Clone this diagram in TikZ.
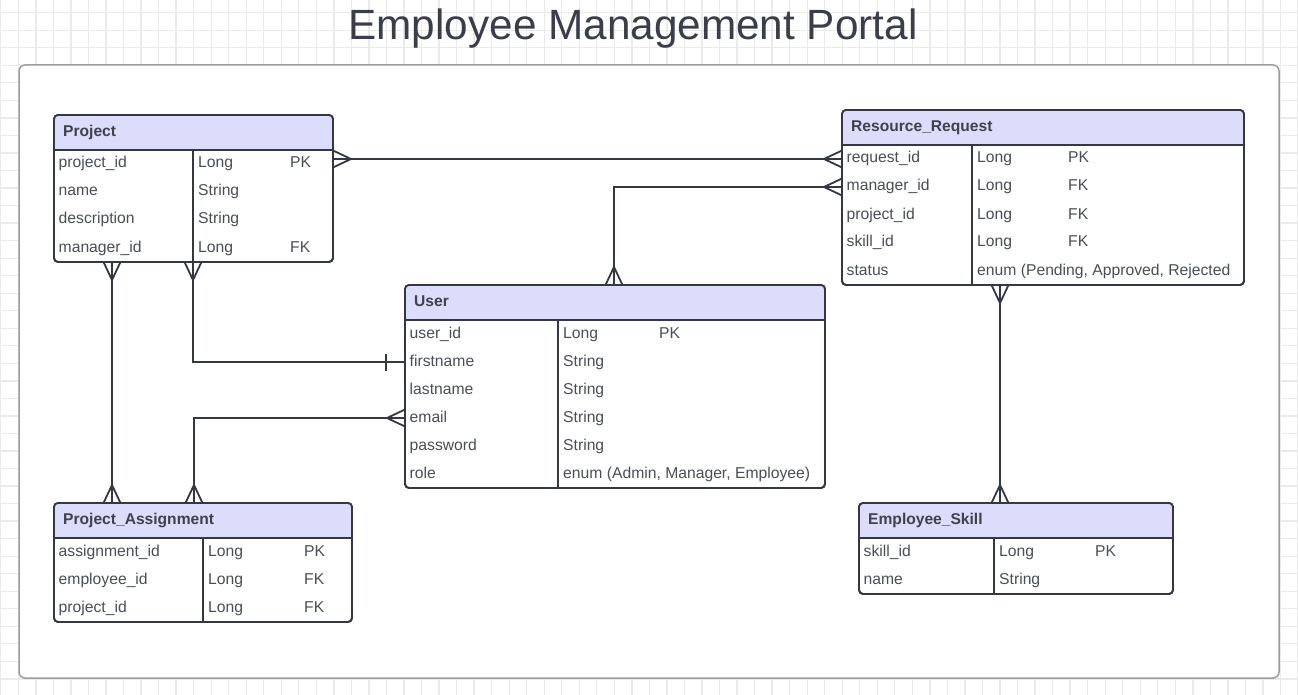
\documentclass[tikz,border=0pt]{standalone}
\usepackage{fontspec}
\setmainfont{Liberation Sans}
\usetikzlibrary{calc}
\definecolor{linec}{HTML}{333844}
\definecolor{bodyc}{HTML}{4A4E57}
\definecolor{headc}{HTML}{3E424C}
\definecolor{headfill}{HTML}{DCDCFB}
\definecolor{gridc}{HTML}{EAEAEA}
\definecolor{framec}{HTML}{9A9EA4}
\definecolor{titlec}{HTML}{3A3D4A}
\tikzset{
 tblbox/.style={draw=linec, fill=white, line width=1.8, rounded corners=4, inner sep=0, outer sep=0, anchor=north west},
 tblline/.style={draw=linec, line width=1.8},
 bodytxt/.style={text=bodyc, font=\fontsize{15.7}{18}\selectfont, inner sep=0, anchor=base west},
 headtxt/.style={text=headc, font=\fontsize{15.6}{18}\selectfont\bfseries, inner sep=0, anchor=base west},
 conn/.style={draw=linec, line width=1.8},
}
% #1 id, #2 title, #3 left, #4 top, #5 right, #6 divider x, #7 key offset, #8 rows, #9 list
\newcommand\ertable[9]{%
 \pgfmathsetmacro\tbot{#4+35+28*#8}
 \node[tblbox, minimum width={(#5-#3)*1pt}, minimum height={(\tbot-#4)*1pt}] (#1) at (#3,#4) {};
 \begin{scope}
  \clip[rounded corners=4] (#3,#4) rectangle (#5,\tbot);
  \fill[headfill] (#3,#4) rectangle (#5,#4+35);
 \end{scope}
 \draw[tblline, rounded corners=4] (#1.north west) rectangle (#1.south east);
 \draw[tblline] (#3,#4+35) -- (#5,#4+35);
 \draw[tblline] (#6,#4+35) -- (#6,\tbot);
 \coordinate (#1-d) at (#6,\tbot);
 \node[headtxt] (#1-h) at (#3+9,#4+21.5) {#2};
 \foreach \n/\t/\k [count=\i] in {#9} {
   \pgfmathsetmacro\yy{#4+35+28*\i-14}
   \coordinate (#1-r\i) at (#3,\yy);
   \node[bodytxt] (#1-n\i) at (#3+4.5,\yy+4) {\n};
   \node[bodytxt] (#1-t\i) at (#6+5,\yy+4) {\t};
   \node[bodytxt] (#1-k\i) at (#6+#7,\yy+4) {\k};
 }
}
\newcommand\crowh[2]{\draw[conn] ($(#1)+(0,-8.5)$) -- ($(#1)+(#2*18,0)$) -- ($(#1)+(0,8.5)$);}
\newcommand\crowv[2]{\draw[conn] ($(#1)+(-8.5,0)$) -- ($(#1)+(0,#2*18)$) -- ($(#1)+(8.5,0)$);}
\begin{document}
\begin{tikzpicture}[x=1pt,y=-1pt]
\useasboundingbox (0,0) rectangle (1298,695);
% background grid
\begin{scope}
 \clip (0,0) rectangle (1298,695);
 \fill[white] (0,0) rectangle (1298,695);
 \foreach \i in {0,...,74} \draw[gridc, line width=1.3] ({0.8+17.53*\i},0) -- ({0.8+17.53*\i},695);
 \foreach \j in {0,...,40} \draw[gridc, line width=1.3] (0,{-4.8+17.53*\j}) -- (1298,{-4.8+17.53*\j});
\end{scope}
% frame
\node[draw=framec, fill=white, line width=1.5, rounded corners=6, inner sep=0, outer sep=0, anchor=north west,
      minimum width=1260pt, minimum height=613pt] (frame) at (19,65) {};
% title
\node[text=titlec, font=\fontsize{42.3}{48}\selectfont, anchor=base, inner sep=0] (title) at (633,40) {Employee Management Portal};
% tables
\ertable{proj}{Project}{54}{115}{333}{193}{97}{4}{project\_id/Long/PK, name/String/{}, description/String/{}, manager\_id/Long/FK}
\ertable{rr}{Resource\_Request}{842}{110}{1244}{972}{96}{5}{request\_id/Long/PK, manager\_id/Long/FK, project\_id/Long/FK, skill\_id/Long/FK, status/{enum (Pending, Approved, Rejected}/{}}
\ertable{user}{User}{405}{285}{825}{558}{101}{6}{user\_id/Long/PK, firstname/String/{}, lastname/String/{}, email/String/{}, password/String/{}, role/{enum (Admin, Manager, Employee)}/{}}
\ertable{pa}{Project\_Assignment}{54}{503}{352}{203}{101}{3}{assignment\_id/Long/PK, employee\_id/Long/FK, project\_id/Long/FK}
\ertable{es}{Employee\_Skill}{859}{503}{1173}{994}{101}{2}{skill\_id/Long/PK, name/String/{}}
% connectors
\coordinate (pr1) at (proj.east |- rr-r1);
\draw[conn] (pr1) -- (rr-r1);
\crowh{pr1}{1}
\crowh{rr-r1}{-1}
\coordinate (ut) at ($(user.north west)+(209,0)$);
\draw[conn] (ut) |- (rr-r2);
\crowv{ut}{-1}
\crowh{rr-r2}{-1}
\draw[conn] (proj-d) |- (user-r2);
\crowv{proj-d}{1}
\draw[conn] ($(user-r2)+(-19,-8.5)$) -- ($(user-r2)+(-19,8.5)$);
\coordinate (pb1) at ($(proj.south west)+(58,0)$);
\coordinate (pa1) at (pb1 |- pa.north);
\draw[conn] (pb1) -- (pa1);
\crowv{pb1}{1}
\crowv{pa1}{-1}
\coordinate (pa2) at ($(pa.north west)+(140,0)$);
\draw[conn] (user-r4) -| (pa2);
\crowh{user-r4}{-1}
\crowv{pa2}{-1}
\coordinate (rrb) at ($(rr.south west)+(158,0)$);
\coordinate (est) at (rrb |- es.north);
\draw[conn] (rrb) -- (est);
\crowv{rrb}{1}
\crowv{est}{-1}
\end{tikzpicture}
\end{document}
